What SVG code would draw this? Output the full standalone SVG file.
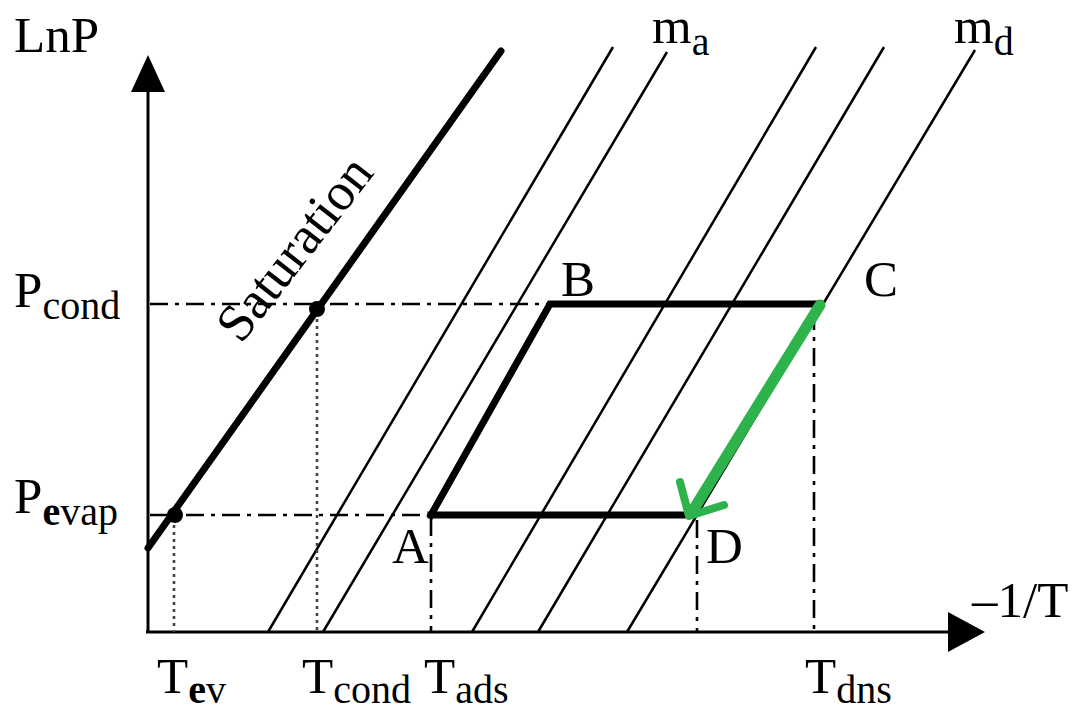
<svg xmlns="http://www.w3.org/2000/svg" width="1078" height="710" viewBox="0 0 1078 710">
<style>
  text { font-family: "Liberation Serif", "Times New Roman", serif; fill: #000; }
  .lab { font-size: 51px; }
  .sub { font-size: 40px; }
  .iso { stroke: #000; stroke-width: 2.5; fill: none; }
  .axis { stroke: #000; stroke-width: 3; fill: none; }
  .dd { stroke: #000; stroke-width: 2.6; stroke-dasharray: 18 7 4 7; fill: none; }
  .dot { stroke: #444; stroke-width: 2.6; stroke-dasharray: 3 4; fill: none; }
  .thick { stroke: #000; stroke-width: 7; fill: none; stroke-linecap: square; }
</style>
<rect width="1078" height="710" fill="#fff"/>

<g id="axes">
  <line class="axis" x1="148" y1="632" x2="148" y2="85"/>
  <polygon points="148,55 131,92 165,92" fill="#000"/>
  <line class="axis" x1="146" y1="632" x2="955" y2="632"/>
  <polygon points="985,632 948,612 948,652" fill="#000"/>
</g>

<g id="isosteres">
  <line class="iso" x1="268" y1="632" x2="613" y2="47"/>
  <line class="iso" x1="323" y1="632" x2="667" y2="52"/>
  <line class="iso" x1="472" y1="632" x2="816" y2="47"/>
  <line class="iso" x1="538" y1="632" x2="884" y2="47"/>
  <line class="iso" x1="627" y1="632" x2="975" y2="50"/>
</g>

<g id="saturation">
  <line x1="148" y1="548" x2="501" y2="51" stroke="#000" stroke-width="7" stroke-linecap="round"/>
  <text style="font-size:53px" transform="translate(241,345) rotate(-52)">Saturation</text>
</g>

<g id="guides">
  <line class="dd" x1="150" y1="304" x2="548" y2="304"/>
  <line class="dd" x1="150" y1="515" x2="428" y2="515"/>
  <line class="dot" x1="317" y1="312" x2="317" y2="632"/>
  <line class="dot" x1="174" y1="518" x2="174" y2="632"/>
  <line class="dd" x1="431" y1="518" x2="431" y2="632"/>
  <line class="dd" x1="697" y1="520" x2="697" y2="632"/>
  <line class="dd" x1="814" y1="312" x2="814" y2="632"/>
  <circle cx="317" cy="309" r="8" fill="#000"/>
  <circle cx="175" cy="515" r="8" fill="#000"/>
</g>

<g id="connectors">
  <path class="thick" d="M431,515 L550,304 L820,304"/>
  <path class="thick" d="M431,515 L690,515"/>
  <line x1="820" y1="305" x2="692" y2="512" stroke="#2eb24b" stroke-width="11" stroke-linecap="round"/>
  <path d="M680,482 L689,516 L724,505" stroke="#2eb24b" stroke-width="8" fill="none" stroke-linecap="round" stroke-linejoin="round"/>
</g>

<g id="point-A"><text class="lab" x="392" y="563">A</text></g>
<g id="point-B"><text class="lab" x="561" y="296">B</text></g>
<g id="point-C"><text class="lab" x="864" y="296">C</text></g>
<g id="point-D"><text class="lab" x="706" y="563">D</text></g>

<g id="labels">
  <text class="lab" x="14" y="52">LnP</text>
  <text class="lab" x="14" y="307">P<tspan class="sub" dy="12">cond</tspan></text>
  <text class="lab" x="14" y="513">P<tspan class="sub" dy="12"><tspan font-weight="bold">e</tspan>vap</tspan></text>
  <text class="lab" x="157" y="693">T<tspan class="sub" dy="10"><tspan font-weight="bold">e</tspan>v</tspan></text>
  <text class="lab" x="302" y="693">T<tspan class="sub" dy="10">cond</tspan></text>
  <text class="lab" x="424" y="693">T<tspan class="sub" dy="10">ads</tspan></text>
  <text class="lab" x="805" y="693">T<tspan class="sub" dy="10">dns</tspan></text>
  <text class="lab" x="972" y="617">–1/T</text>
  <text class="lab" x="652" y="43">m<tspan class="sub" dy="12">a</tspan></text>
  <text class="lab" x="954" y="43">m<tspan class="sub" dy="12">d</tspan></text>
</g>
</svg>
